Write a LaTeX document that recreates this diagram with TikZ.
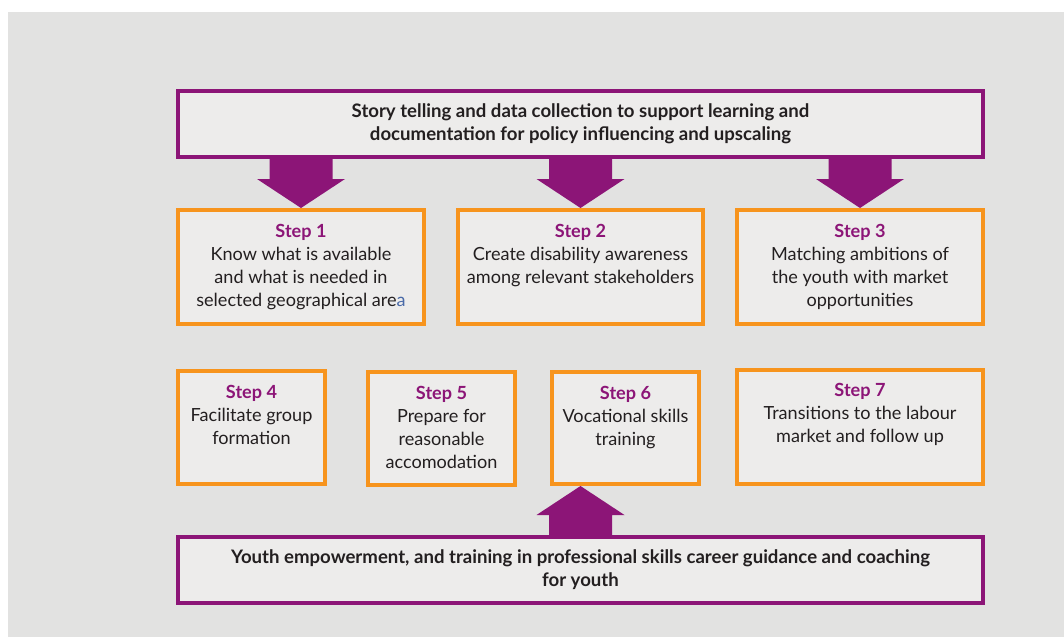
\documentclass[tikz,border=0pt]{standalone}
\usepackage{fontspec}
\setmainfont{Lato}
\usetikzlibrary{positioning,calc}

\definecolor{bggray}{HTML}{E2E2E1}
\definecolor{boxfill}{HTML}{EDECEB}
\definecolor{stepviolet}{HTML}{8C1577}
\definecolor{steporange}{HTML}{F7941D}
\definecolor{inkdark}{HTML}{231F20}
\definecolor{inkblue}{HTML}{4A6AA8}

% block arrow from #1 to the tip #2 (vertical)
\newcommand{\blockarrow}[2]{%
  \fill[stepviolet] let \p1=(#1), \p2=(#2), \n1={(\y1>\y2)?1:-1} in
    (\x1-31.5,\y1) -- (\x1+31.5,\y1) -- (\x1+31.5,\y2+29*\n1)
    -- (\x1+44,\y2+29*\n1) -- (\x1,\y2) -- (\x1-44,\y2+29*\n1)
    -- (\x1-31.5,\y2+29*\n1) -- cycle;}

\begin{document}
\begin{tikzpicture}[
  x=1pt, y=-1pt,
  bannerbox/.style={draw=stepviolet, line width=4pt, fill=boxfill,
                    minimum width=805pt, minimum height=66pt, inner sep=0pt,
                    align=center, text=inkdark,
                    font=\fontsize{18.6}{23}\selectfont\bfseries},
  stepbox/.style={draw=steporange, line width=4pt, fill=boxfill,
                  minimum height=114pt, inner sep=0pt},
  steptxt/.style={align=center, inner sep=0pt, text=inkdark,
                  font=\fontsize{18.1}{23}\selectfont},
  steplbl/.style={text=stepviolet, font=\bfseries}
]
\useasboundingbox (0,0) rectangle (1064,637);
\fill[bggray] (8,12) rectangle (1064,637);

\node[bannerbox] (top) at (580.5,124) {Story telling and data collection to support learning and\\documentation for policy influencing and upscaling};
\node[bannerbox] (bot) at (580.5,570) {Youth empowerment, and training in professional skills career guidance and coaching\\for youth};

\node[stepbox, minimum width=246pt] (s1) at (301,267) {};
\node[stepbox, minimum width=245pt] (s2) at (580.5,267) {};
\node[stepbox, minimum width=246pt] (s3) at (860,267) {};
\node[stepbox, minimum width=147pt, minimum height=113pt] (s4) at (251.5,427.5) {};
\node[stepbox, minimum width=147pt, minimum height=113pt] (s5) at (441.5,428.5) {};
\node[stepbox, minimum width=147pt, minimum height=112pt] (s6) at (625.5,428) {};
\node[stepbox, minimum width=246pt] (s7) at (860,427) {};

\node[steptxt, below=16pt of s1.north] (t1) {{\color{stepviolet}\bfseries Step 1}\\Know what is available\\and what is needed in\\selected geographical are{\color{inkblue}a}};
\node[steptxt, below=16pt of s2.north] (t2) {{\color{stepviolet}\bfseries Step 2}\\Create disability awareness\\among relevant stakeholders};
\node[steptxt, below=16pt of s3.north] (t3) {{\color{stepviolet}\bfseries Step 3}\\Matching ambitions of\\the youth with market\\opportunities};
\node[steptxt, below=16pt of s4.north] (t4) {{\color{stepviolet}\bfseries Step 4}\\Facilitate group\\formation};
\node[steptxt, below=16pt of s5.north] (t5) {{\color{stepviolet}\bfseries Step 5}\\Prepare for\\reasonable\\accomodation};
\node[steptxt, below=16pt of s6.north] (t6) {{\color{stepviolet}\bfseries Step 6}\\Vocational skills\\training};
\node[steptxt, below=15pt of s7.north] (t7) {{\color{stepviolet}\bfseries Step 7}\\Transitions to the labour\\market and follow up};

\foreach \s in {s1,s2,s3}
  \blockarrow{top.south -| \s.north}{\s.north};
\blockarrow{bot.north}{bot.north |- s6.south};
\end{tikzpicture}
\end{document}
